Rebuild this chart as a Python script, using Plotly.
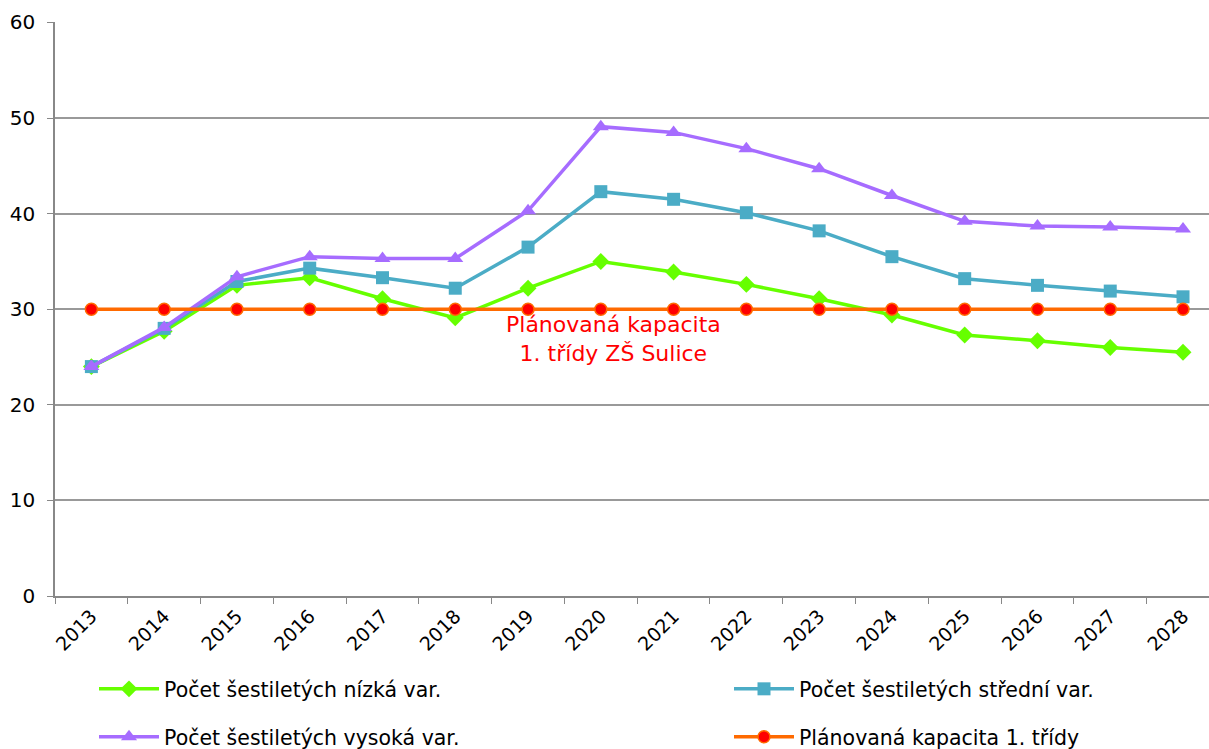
import plotly.graph_objects as go

years = ["2013","2014","2015","2016","2017","2018","2019","2020","2021","2022","2023","2024","2025","2026","2027","2028"]
nizka = [24.0,27.7,32.5,33.3,31.1,29.1,32.2,35.0,33.9,32.6,31.1,29.4,27.3,26.7,26.0,25.5]
stredni = [24.0,28.0,32.9,34.3,33.3,32.2,36.5,42.3,41.5,40.1,38.2,35.5,33.2,32.5,31.9,31.3]
vysoka = [24.0,28.1,33.4,35.5,35.3,35.3,40.3,49.1,48.5,46.8,44.7,41.9,39.2,38.7,38.6,38.4]
kapacita = [30]*16
names = ["Počet šestiletých nízká var.", "Počet šestiletých střední var.",
         "Počet šestiletých vysoká var.", "Plánovaná kapacita 1. třídy"]
annot_text = "Plánovaná kapacita<br>1. třídy ZŠ Sulice"

fig = go.Figure()
fig.add_trace(go.Scatter(x=years, y=nizka, name=names[0], mode="lines+markers", legend="legend",
    line=dict(color="#66ff00", width=3.5),
    marker=dict(symbol="diamond", size=13, color="#66ff00")))
fig.add_trace(go.Scatter(x=years, y=stredni, name=names[1], mode="lines+markers", legend="legend2",
    line=dict(color="#4bacc6", width=3.5),
    marker=dict(symbol="square", size=13, color="#4bacc6")))
fig.add_trace(go.Scatter(x=years, y=vysoka, name=names[2], mode="lines+markers", legend="legend3",
    line=dict(color="#a66cff", width=3.5),
    marker=dict(symbol="triangle-up", size=14, color="#a66cff")))
fig.add_trace(go.Scatter(x=years, y=kapacita, name=names[3], mode="lines+markers", legend="legend4",
    line=dict(color="#ff6a00", width=3.5),
    marker=dict(symbol="circle", size=12, color="#ff0000", line=dict(color="#ff6a00", width=1.5))))

fig.add_annotation(x=7.18, y=26.9, xref="x", yref="y", text=annot_text, showarrow=False,
    font=dict(color="#ff0000", size=22, family="DejaVu Sans"), align="center")

W, H = 1209, 749
L, T, B = 55, 22, 153
ph = H - T - B
pw = W - L
def lx(px):
    return (px - L) / pw
def ly(py):
    return (H - B - py) / ph

leg_common = dict(xanchor="left", yanchor="middle", font=dict(size=20.5, family="DejaVu Sans"),
                  bgcolor="rgba(0,0,0,0)", itemwidth=60)
fig.update_layout(
    width=W, height=H,
    margin=dict(l=L, r=0, t=T, b=B, autoexpand=False),
    plot_bgcolor="white", paper_bgcolor="white",
    font=dict(family="DejaVu Sans", size=19, color="black"),
    showlegend=True,
    legend=dict(x=lx(94), y=ly(689), **leg_common),
    legend2=dict(x=lx(729), y=ly(689), **leg_common),
    legend3=dict(x=lx(94), y=ly(737), **leg_common),
    legend4=dict(x=lx(729), y=ly(737), **leg_common),
)
fig.update_xaxes(type="category", range=[-0.5, 15.357], tickson="boundaries",
    ticks="outside", ticklen=6, tickcolor="#888", tickangle=-45,
    showline=True, linecolor="#888", linewidth=1.5, showgrid=False, automargin=False,
    tickfont=dict(size=19))
fig.update_yaxes(range=[0, 60.05], dtick=10, ticks="outside", ticklen=6, tickcolor="#888",
    showline=True, linecolor="#888", linewidth=1.5, automargin=False,
    showgrid=True, gridcolor="#999", gridwidth=1.5, zeroline=False,
    ticklabelstandoff=8, tickfont=dict(size=20))

fig.write_html("out.html", config={"displayModeBar": False},
               post_script="document.body.style.margin='0';document.body.style.overflow='hidden';")
